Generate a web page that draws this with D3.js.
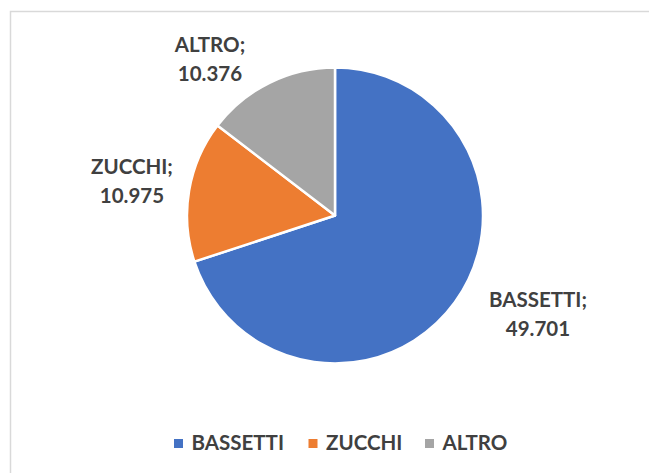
<!DOCTYPE html>
<html>
<head>
<meta charset="utf-8">
<script src="https://cdn.jsdelivr.net/npm/d3@7"></script>
<style>
  body { margin: 0; background: #fff; }
  svg { display: block; }
  text { font-family: Lato, "Open Sans", sans-serif; font-weight: bold; fill: #404040; }
</style>
</head>
<body>
<svg width="649" height="473"></svg>
<script>
const categories = ['BASSETTI', 'ZUCCHI', 'ALTRO']
const values = [49.701, 10.975, 10.376]
const valueLabels = ['49.701', '10.975', '10.376']
const colors = ['#4472c4', '#ed7d31', '#a5a5a5']

// label anchor points (center of first line baseline)
const labelPos = [[538, 307], [132, 174], [210, 52]]

const svg = d3.select('svg')
const cx = 335, cy = 215.5, radius = 148

// chart frame, open to the right and bottom like the cropped original
svg.append('rect')
  .attr('x', 10.5).attr('y', 11.5)
  .attr('width', 700).attr('height', 500)
  .attr('fill', 'none')
  .attr('stroke', '#d9d9d9')
  .attr('stroke-width', 1.5)

const data = categories.map((c, i) => ({ name: c, value: values[i], label: valueLabels[i], color: colors[i] }))

const pie = d3.pie().value(d => d.value).sort(null)
const arc = d3.arc().innerRadius(0).outerRadius(radius)

const g = svg.append('g').attr('transform', `translate(${cx},${cy})`)
g.selectAll('path')
  .data(pie(data))
  .enter()
  .append('path')
  .attr('d', arc)
  .attr('fill', d => d.data.color)
  .attr('stroke', '#fff')
  .attr('stroke-width', 2.5)
  .attr('stroke-linejoin', 'round')

const labels = svg.selectAll('text.lbl')
  .data(data)
  .enter()
  .append('text')
  .attr('class', 'lbl')
  .attr('text-anchor', 'middle')
  .style('font-size', '20.5px')
labels.append('tspan')
  .attr('x', (d, i) => labelPos[i][0])
  .attr('y', (d, i) => labelPos[i][1])
  .text(d => d.name + ';')
labels.append('tspan')
  .attr('x', (d, i) => labelPos[i][0])
  .attr('y', (d, i) => labelPos[i][1] + 29)
  .text(d => d.label)

// legend
const legendX = [174, 308.5, 425]
const legend = svg.selectAll('g.leg')
  .data(data)
  .enter()
  .append('g')
  .attr('class', 'leg')
  .attr('transform', (d, i) => `translate(${legendX[i]},0)`)
legend.append('rect')
  .attr('x', 0).attr('y', 439)
  .attr('width', 9).attr('height', 9)
  .attr('fill', d => d.color)
legend.append('text')
  .attr('x', 17.5).attr('y', 450)
  .style('font-size', '20.5px')
  .text(d => d.name)
</script>
</body>
</html>
